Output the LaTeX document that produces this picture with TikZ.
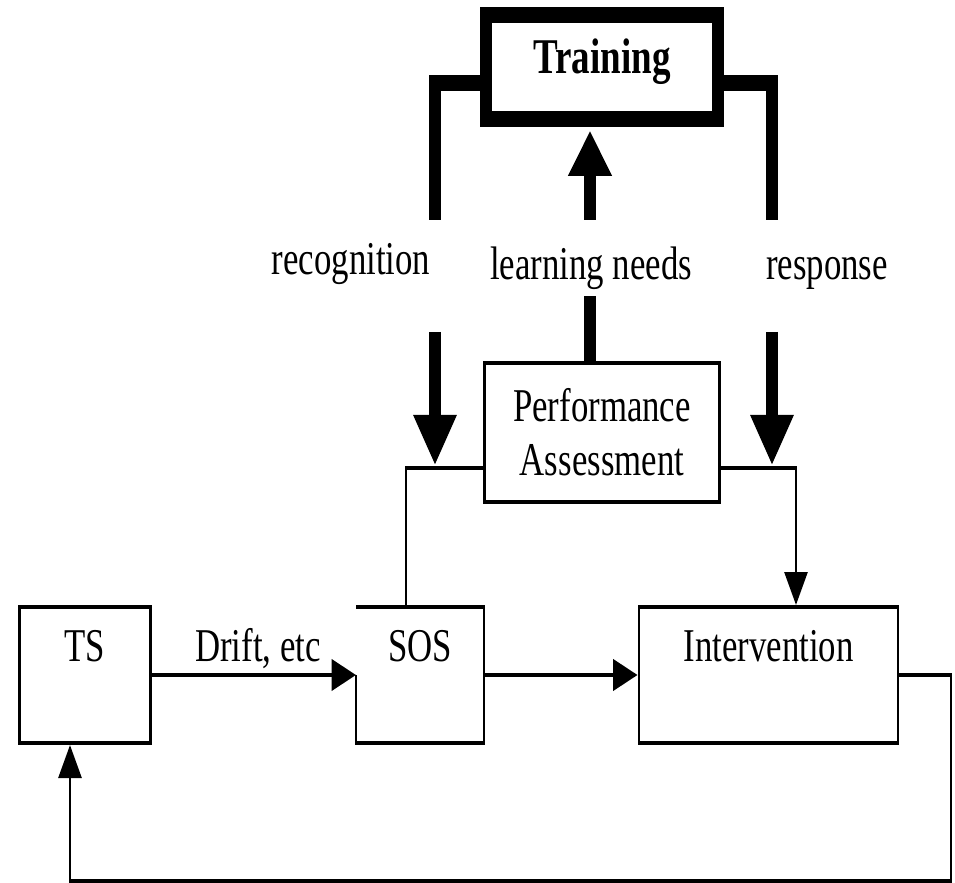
\documentclass[tikz,border=0pt]{standalone}
\usepackage{fontspec}
\setmainfont{Liberation Serif}
\usetikzlibrary{arrows.meta}
\begin{document}
\begin{tikzpicture}
\useasboundingbox (0,0) rectangle (477.5pt,-441.5pt);
\begin{scope}[transform canvas={xscale=0.74}, x=0.675676pt, y=-0.5pt,
  txt/.style={font=\fontsize{23.5}{27}\selectfont},
  thn/.style={line width=2pt},
  thk/.style={line width=8pt},
  box/.style={draw, thn, txt, inner sep=0pt, text height=27pt, text depth=41pt},
  lbl/.style={txt, inner sep=0pt, anchor=base},
  thintip/.style={-{Triangle[length=16.5pt,width=15.5pt]}},
  uptip/.style={-{Triangle[length=22.5pt,width=28.4pt]}},
  downtip/.style={-{Triangle[length=25pt,width=27.7pt]}}]

% boxes
\node[draw, thk, inner sep=0pt, minimum width=157.1pt, text height=29.5pt, text depth=22.5pt,
      font=\fontsize{25}{30}\selectfont\bfseries] (trn) at (602,67) {Training};
\node[draw, thn, txt, inner sep=0pt, minimum width=158.65pt, minimum height=69.5pt, align=center]
      (pa) at (602,432.5) {Performance\\Assessment};
\node[box, minimum width=88.2pt] (ts) at (85,675) {TS};
\node[box, draw=none, outer sep=0pt, minimum width=86.5pt] (sos) at (420,675) {SOS};
\node[box, minimum width=175pt] (int) at (768.5,675) {Intervention};
\draw[thn] (sos.west) |- (sos.south east) |- (sos.north west);

% labels
\node[lbl] (rec) at (351,275) {recognition};
\node[lbl] (lrn) at (591,279) {learning needs};
\node[lbl] (rsp) at (827,279) {response};

% coordinates
\coordinate (lt) at (435,83);  \coordinate (lb) at (435,220);
\coordinate (la) at (435,332); \coordinate (lz) at (435,465);
\coordinate (rt) at (772,83);  \coordinate (rb) at (772,220);
\coordinate (ra) at (772,332); \coordinate (rz) at (772,465);
\coordinate (mb) at (590,220); \coordinate (mt) at (590,296);
\coordinate (pl) at (406,467.5); \coordinate (pr) at (796,467.5);
\coordinate (fr) at (951,881); \coordinate (fl) at (70,881);

% thick connectors
\draw[thk] (lt -| trn.west) -- (lt) -- (lb);
\draw[thk] (rt -| trn.east) -- (rt) -- (rb);
\draw[thk, uptip, shorten >=2pt] (mb) -- (mb |- trn.south);
\draw[thk] (mt |- pa.north) -- (mt);
\draw[thk, downtip] (la) -- (lz);
\draw[thk, downtip] (ra) -- (rz);

% thin connectors
\draw[thn] (pl |- sos.north) -- (pl) -- (pl -| pa.west);
\draw[thn, thintip] (pr -| pa.east) -- (pr) -- (pr |- int.north);
\draw[thn, thintip] (ts.east) -- node[lbl, pos=0.52, yshift=7pt] (drift) {Drift, etc} (sos.west);
\draw[thn, thintip] (sos.east) -- (int.west);
\draw[thn, thintip] (int.east) -- (int.east -| fr) -- (fr) -- (fl) -- (fl |- ts.south);
\end{scope}
\end{tikzpicture}
\end{document}
